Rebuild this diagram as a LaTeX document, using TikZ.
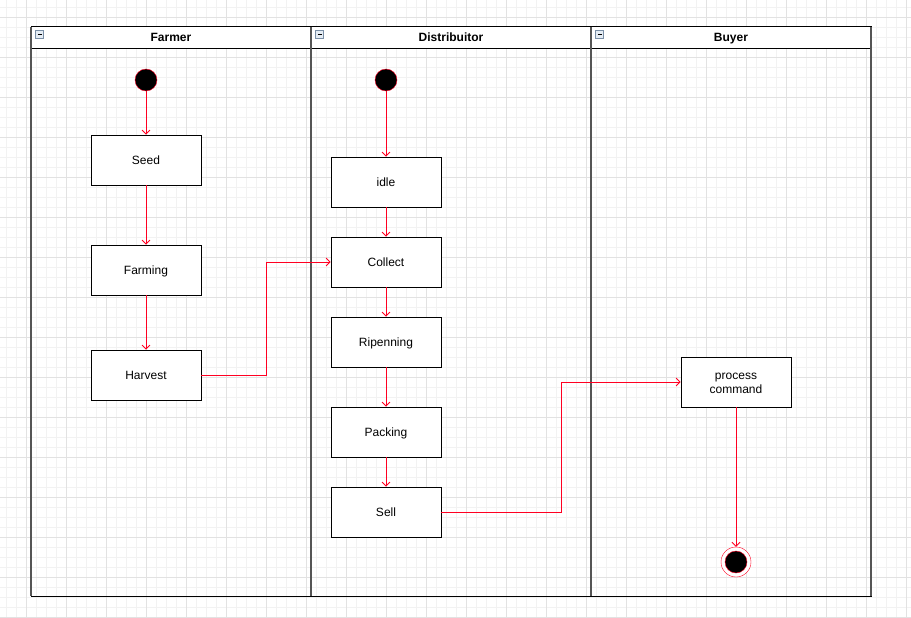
\documentclass[tikz,border=0pt]{standalone}
\usepackage{fontspec}
\setmainfont{Liberation Sans}
\usetikzlibrary{arrows.meta}
\definecolor{gridminor}{HTML}{F2F2F2}
\definecolor{gridmajor}{HTML}{E2E2E2}
\definecolor{flowred}{HTML}{FF0022}
\definecolor{lanegray}{HTML}{555555}
\definecolor{iconedge}{HTML}{7A8FA6}
\definecolor{iconfill}{HTML}{E4ECF4}
\tikzset{
  act/.style={draw=black, fill=white, line width=0.8pt, minimum width=110pt,
    minimum height=50pt, inner sep=0pt, text height=8.6pt, text depth=0pt,
    font=\fontsize{12}{14}\selectfont},
  actlabel/.style={align=center, inner sep=0pt, font=\fontsize{12}{14}\selectfont},
  initial/.style={circle, draw=flowred, fill=black, minimum size=22pt, inner sep=0pt},
  finalring/.style={circle, draw=flowred, fill=white, minimum size=30pt, inner sep=0pt},
  flow/.style={draw=flowred, line width=0.8pt, -{Straight Barb[length=4pt,width=8pt]}},
  lanehead/.style={anchor=base, inner sep=0pt, font=\bfseries\fontsize{12}{14}\selectfont},
  laneicon/.style={draw=iconedge, fill=iconfill, line width=0.6pt},
}
\begin{document}
\begin{tikzpicture}[x=1pt, y=-1pt]
\useasboundingbox (0,0) rectangle (911,618);
\fill[white] (0,0) rectangle (911,618);
% background grid
\foreach \k in {0,...,90} \draw[gridminor, line width=0.8pt] ({6+10*\k},0) -- ({6+10*\k},618);
\foreach \k in {0,...,61} \draw[gridminor, line width=0.8pt] (0,{7+10*\k}) -- (911,{7+10*\k});
\foreach \k in {0,...,22} \draw[gridmajor, line width=0.8pt] ({26+40*\k},0) -- ({26+40*\k},618);
\foreach \k in {0,...,15} \draw[gridmajor, line width=0.8pt] (0,{17+40*\k}) -- (911,{17+40*\k});

% swimlanes
\foreach \x/\name in {31/Farmer, 311/Distribuitor, 591/Buyer} {
  \fill[white] (\x,26) rectangle (\x+280,48);
  \draw[black, line width=0.8pt] (\x,26) rectangle (\x+280,596);
  \draw[black, line width=0.8pt] (\x,48) -- (\x+280,48);
  \draw[lanegray, line width=1.6pt] (\x,27) -- (\x,596);
  \node[lanehead] at (\x+140,42) {\name};
  \draw[laneicon] (\x+4.5,30.5) rectangle (\x+12.5,38.5);
  \draw[black, line width=0.8pt] (\x+6.5,34.5) -- (\x+10.5,34.5);
}
\draw[lanegray, line width=1.6pt] (871,27) -- (871,596);

% Farmer lane
\node[initial] (s1) at (146,80) {};
\node[act] (seed) at (146,160) {Seed};
\node[act] (farming) at (146,270) {Farming};
\node[act] (harvest) at (146,375) {Harvest};

% Distribuitor lane
\node[initial] (s2) at (386,80) {};
\node[act] (idle) at (386,182) {idle};
\node[act] (collect) at (386,262) {Collect};
\node[act] (ripen) at (386,342) {Ripenning};
\node[act] (packing) at (386,432) {Packing};
\node[act] (sell) at (386,512) {Sell};

% Buyer lane
\node[act] (proc) at (736,382) {};
\node[actlabel] (proclabel) at ([yshift=-1.5pt]proc.center) {process\\command};
\node[finalring] (fin) at (736,562) {};
\node[initial] (finin) at (fin) {};

% control flows
\draw[flow] (s1) -- (seed);
\draw[flow] (seed) -- (farming);
\draw[flow] (farming) -- (harvest);
\draw[flow] (harvest.east) -- ++(65,0) |- (collect.west);
\draw[flow] (s2) -- (idle);
\draw[flow] (idle) -- (collect);
\draw[flow] (collect) -- (ripen);
\draw[flow] (ripen) -- (packing);
\draw[flow] (packing) -- (sell);
\draw[flow] (sell.east) -- ++(120,0) |- (proc.west);
\draw[flow] (proc) -- (fin);
\end{tikzpicture}
\end{document}
